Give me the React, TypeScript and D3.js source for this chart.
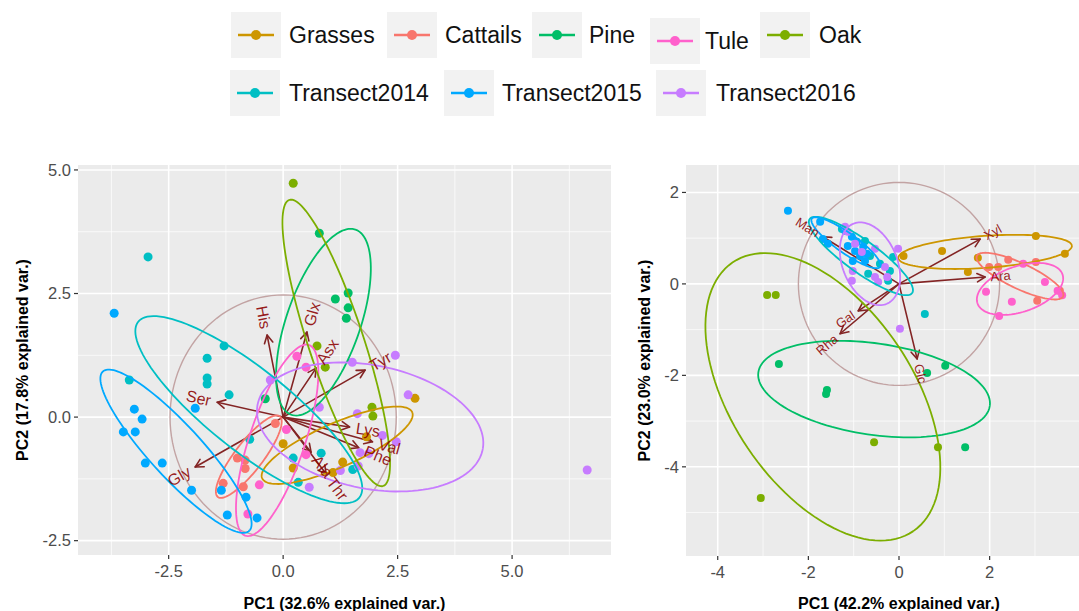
import React from "react";
import * as d3 from "d3";

const FONT = "'Liberation Sans', Arial, Helvetica, sans-serif";

const groups = ["Grasses", "Cattails", "Pine", "Tule", "Oak", "Transect2014", "Transect2015", "Transect2016"];
const groupColors = ["#CD9600", "#F8766D", "#00BE67", "#FF61CC", "#7CAE00", "#00BFC4", "#00A9FF", "#C77CFF"];

// [groupIndex, PC1, PC2]
const leftPoints: [number, number, number][] = [
  [0, 2.88, 0.38], [0, 1.82, -0.4], [0, 0, -0.54], [0, 0.22, -1.03], [0, 1.3, -0.91], [0, 1.09, -1.12],
  [1, -0.17, -0.13], [1, -1.0, -0.83], [1, -0.83, -0.87], [1, -0.83, -1.04], [1, -1.31, -1.34], [1, -0.87, -1.41],
  [2, 0.79, 3.72], [2, 1.42, 2.51], [2, 1.14, 2.39], [2, 1.42, 2.21], [2, 1.38, 2.0], [2, -0.39, 0.37],
  [3, 0.3, 1.23], [3, 0.5, 1.01], [3, 0.07, -0.25], [3, 0.5, -0.76], [3, -0.52, -1.37], [3, -0.77, -1.96],
  [4, 0.22, 4.73], [4, 0.74, 1.44], [4, 0.92, 1.01], [4, 1.94, 0.2], [4, 1.96, 0.02],
  [5, -2.95, 3.24], [5, -3.36, 0.75], [5, -1.29, 1.44], [5, -1.66, 1.19], [5, -1.66, 0.79], [5, -1.66, 0.67],
  [5, -1.18, 0.45], [5, -0.73, -0.45], [5, 0.22, -0.83], [5, 0.83, -0.73], [5, 0.33, -1.32], [5, 1.52, -1.06],
  [6, -3.69, 2.1], [6, -1.92, 0.18], [6, -3.25, 0.16], [6, -3.08, -0.04], [6, -3.49, -0.3], [6, -3.23, -0.3],
  [6, -3.01, -0.93], [6, -2.64, -0.93], [6, -2.0, -1.48], [6, -1.35, -1.48], [6, -0.81, -1.62], [6, -1.22, -1.98], [6, -0.57, -2.04],
  [7, -0.28, 0.75], [7, 1.51, 1.11], [7, 2.45, 1.25], [7, 0.79, 0.2], [7, 2.73, 0.45], [7, 1.62, 0.07], [7, 2.17, -0.37],
  [7, 2.47, -0.5], [7, 1.68, -0.72], [7, 1.87, -0.74], [7, 1.64, -0.99], [7, 1.25, -1.08], [7, 0.57, -1.42], [7, 6.64, -1.07],
];

const rightPoints: [number, number, number][] = [
  [0, 3.02, 1.05], [0, 3.66, 0.66], [0, 0.95, 0.72], [0, 0.1, 0.61], [0, 1.74, 0.57], [0, 1.52, 0.26],
  [1, 2.41, 0.53], [1, 1.99, 0.37], [1, 2.19, 0.37], [1, 3.02, 0.48], [1, 3.05, -0.37], [1, 3.55, -0.15],
  [3, 2.74, 0.44], [3, 3.22, 0.04], [3, 3.5, -0.15], [3, 1.92, -0.17], [3, 2.49, -0.39], [3, 2.21, -0.7], [3, 3.6, -0.25],
  [2, -2.65, -1.75], [2, -1.59, -2.32], [2, -1.61, -2.41], [2, 1.02, -1.79], [2, 0.62, -1.95], [2, 1.46, -3.57],
  [4, -2.91, -0.24], [4, -2.72, -0.24], [4, -3.05, -4.68], [4, -0.55, -3.46], [4, 0.86, -3.57],
  [5, -1.26, 1.2], [5, -0.75, 0.94], [5, -0.64, 0.61], [5, -0.42, 0.44], [5, -0.2, 0.28], [5, -0.13, 0.59],
  [5, -0.24, 0.07], [5, -0.68, 0.22], [5, 0.57, -0.66],
  [6, -2.45, 1.6], [6, -1.74, 1.36], [6, -1.68, 0.98], [6, -1.57, 0.88], [6, -1.19, 1.16], [6, -1.04, 1.03],
  [6, -1.13, 0.83], [6, -0.97, 0.72], [6, -0.86, 0.61], [6, -0.75, 0.5], [6, -0.71, 0.66], [6, -0.93, 0.92],
  [6, -1.02, 0.5], [6, -0.79, 0.81],
  [7, -1.19, 1.25], [7, -1.13, 1.14], [7, -0.97, 0.88], [7, -0.82, 0.7], [7, -0.53, 0.77], [7, -0.02, 0.77],
  [7, -1.02, 0.28], [7, -1.04, 0.07], [7, -0.31, 0.37], [7, -0.26, 0.15], [7, -0.46, 0.04], [7, 0.02, -0.98], [7, -0.53, 0.15],
];

// [groupIndex, centre PC1, centre PC2, semi-major, semi-minor, angle (deg)]
const leftEllipses: [number, number, number, number, number, number][] = [
  [0, 1.18, -0.57, 1.77, 0.45, 22],
  [1, -0.75, -0.8, 1.06, 0.3, 50],
  [2, 0.88, 1.92, 2.0, 0.8, 69],
  [3, -0.13, -0.47, 2.05, 0.6, 70],
  [4, 1.16, 1.5, 3.07, 0.6, -70.4],
  [5, -0.75, 0.15, 3.0, 0.85, -36],
  [6, -2.34, -0.69, 2.27, 0.55, -45],
  [7, 1.9, -0.2, 2.5, 1.25, -10],
];

const rightEllipses: [number, number, number, number, number, number][] = [
  [0, 1.9, 0.7, 1.92, 0.35, 4],
  [1, 2.67, 0.17, 1.05, 0.28, -25],
  [2, -0.55, -2.3, 2.58, 1.0, -8.2],
  [3, 2.67, -0.11, 0.99, 0.5, 18.5],
  [4, -1.68, -2.47, 3.55, 2.0, -55.8],
  [5, -0.84, 0.61, 1.39, 0.35, -35.6],
  [6, -1.17, 0.9, 0.92, 0.22, -35],
  [7, -0.64, 0.44, 0.95, 0.6, -67],
];

// [variable, PC1 loading, PC2 loading]
const leftArrows: [string, number, number][] = [
  ["His", -0.35, 1.66], ["Glx", 0.52, 1.72], ["Asx", 0.72, 0.99], ["Tyr", 1.79, 0.95],
  ["Ser", -1.44, 0.3], ["Gly", -1.92, -1.01], ["Lys", 1.45, -0.2], ["Val", 1.95, -0.5],
  ["Phe", 1.65, -0.62], ["Ala", 0.61, -0.71], ["Thr", 0.94, -1.15],
];
const rightArrows: [string, number, number][] = [
  ["Xyl", 1.79, 0.98], ["Ara", 1.9, 0.15], ["Man", -1.68, 1.03],
  ["Gal", -0.9, -0.59], ["Rha", -1.3, -1.09], ["Glc", 0.4, -1.64],
];

const leftXTicks = [-2.5, 0, 2.5, 5.0];
const leftXMinor = [-3.75, -1.25, 1.25, 3.75, 6.25];
const leftYTicks = [-2.5, 0, 2.5, 5.0];
const leftYMinor = [-1.25, 1.25, 3.75];
const rightXTicks = [-4, -2, 0, 2, 4];
const rightXMinor = [-3, -1, 1, 3];
const rightYTicks = [-4, -2, 0, 2];
const rightYMinor = [-5, -3, -1, 1];

const leftCircleR = 2.47;
const rightCircleR = 2.22;

type Sc = d3.ScaleLinear<number, number>;

function ellipsePath(e: number[], xs: Sc, ys: Sc) {
  const [, cx, cy, a, b, th] = e;
  const t = (th * Math.PI) / 180;
  const pts: [number, number][] = d3.range(0, 121).map((i) => {
    const u = (i / 120) * 2 * Math.PI;
    return [
      cx + a * Math.cos(u) * Math.cos(t) - b * Math.sin(u) * Math.sin(t),
      cy + a * Math.cos(u) * Math.sin(t) + b * Math.sin(u) * Math.cos(t),
    ];
  });
  return d3.line<[number, number]>().x((d) => xs(d[0])).y((d) => ys(d[1]))(pts) || "";
}

function circlePath(r: number, xs: Sc, ys: Sc) {
  const pts: [number, number][] = d3.range(0, 121).map((i) => {
    const u = (i / 120) * 2 * Math.PI;
    return [r * Math.cos(u), r * Math.sin(u)];
  });
  return d3.line<[number, number]>().x((d) => xs(d[0])).y((d) => ys(d[1]))(pts) || "";
}

interface PanelProps {
  id: string;
  xs: Sc; ys: Sc;
  points: [number, number, number][];
  ellipses: [number, number, number, number, number, number][];
  arrows: [string, number, number][];
  xTicks: number[]; xMinor: number[]; yTicks: number[]; yMinor: number[];
  fmt: (v: number) => string;
  circleR: number;
  xTitle: string; yTitle: string; yTitleX: number;
  labelSize: number;
  pointR: number;
}

function Panel(p: PanelProps) {
  const { xs, ys } = p;
  const [x0, x1] = xs.range();
  const [y1, y0] = ys.range();
  const ox = xs(0), oy = ys(0);
  return (
    <g>
      <defs>
        <clipPath id={p.id}>
          <rect x={x0} y={y0} width={x1 - x0} height={y1 - y0} />
        </clipPath>
      </defs>
      <rect x={x0} y={y0} width={x1 - x0} height={y1 - y0} fill="#EBEBEB" />
      <g clipPath={`url(#${p.id})`}>
        {p.xMinor.map((v) => <line key={"xm" + v} x1={xs(v)} x2={xs(v)} y1={y0} y2={y1} stroke="#fff" strokeWidth={0.7} />)}
        {p.yMinor.map((v) => <line key={"ym" + v} y1={ys(v)} y2={ys(v)} x1={x0} x2={x1} stroke="#fff" strokeWidth={0.7} />)}
        {p.xTicks.map((v) => <line key={"x" + v} x1={xs(v)} x2={xs(v)} y1={y0} y2={y1} stroke="#fff" strokeWidth={1.6} />)}
        {p.yTicks.map((v) => <line key={"y" + v} y1={ys(v)} y2={ys(v)} x1={x0} x2={x1} stroke="#fff" strokeWidth={1.6} />)}
        <path d={circlePath(p.circleR, xs, ys)} fill="none" stroke="#C2A3A3" strokeWidth={1.4} />
        {p.arrows.map(([name, vx, vy]) => {
          const tx = xs(vx), ty = ys(vy);
          const ang = Math.atan2(ty - oy, tx - ox);
          const L = 9, spread = (28 * Math.PI) / 180;
          const h1 = [tx - L * Math.cos(ang - spread), ty - L * Math.sin(ang - spread)];
          const h2 = [tx - L * Math.cos(ang + spread), ty - L * Math.sin(ang + spread)];
          return (
            <g key={"a" + name} stroke="#832424" strokeWidth={1.6} fill="none" strokeLinecap="round" strokeLinejoin="round">
              <line x1={ox} y1={oy} x2={tx} y2={ty} />
              <path d={`M${h1[0]},${h1[1]}L${tx},${ty}L${h2[0]},${h2[1]}`} />
            </g>
          );
        })}
        {p.points.map(([g, vx, vy], i) => (
          <circle key={"p" + i} cx={xs(vx)} cy={ys(vy)} r={p.pointR} fill={groupColors[g]} />
        ))}
        {p.ellipses.map((e) => (
          <path key={"e" + e[0]} d={ellipsePath(e, xs, ys)} fill="none" stroke={groupColors[e[0]]} strokeWidth={1.8} />
        ))}
        {p.arrows.map(([name, vx, vy]) => {
          const tx = xs(vx), ty = ys(vy);
          const rot = (Math.atan((ty - oy) / (tx - ox)) * 180) / Math.PI;
          const w = p.labelSize * 0.55 * name.length;
          const pos = vx > 0;
          return (
            <g key={"l" + name} transform={`translate(${tx},${ty}) rotate(${rot})`}>
              <text x={pos ? 0.25 * w : -0.25 * w} dy="0.35em" textAnchor={pos ? "start" : "end"}
                fontFamily={FONT} fontSize={p.labelSize} fill="#8B0000" fillOpacity={0.88}>{name}</text>
            </g>
          );
        })}
      </g>
      {p.xTicks.filter((v) => xs(v) >= x0 && xs(v) <= 1079).map((v) => (
        <g key={"xt" + v}>
          <line x1={xs(v)} x2={xs(v)} y1={y1} y2={y1 + 4} stroke="#333" strokeWidth={1.2} />
          <text x={xs(v)} y={y1 + 22} textAnchor="middle" fontFamily={FONT} fontSize={16.5} fill="#4D4D4D">{p.fmt(v)}</text>
        </g>
      ))}
      {p.yTicks.map((v) => (
        <g key={"yt" + v}>
          <line x1={x0 - 4} x2={x0} y1={ys(v)} y2={ys(v)} stroke="#333" strokeWidth={1.2} />
          <text x={x0 - 7} y={ys(v)} dy="0.35em" textAnchor="end" fontFamily={FONT} fontSize={16.5} fill="#4D4D4D">{p.fmt(v)}</text>
        </g>
      ))}
      <text x={(x0 + Math.min(x1, 1112)) / 2} y={609} textAnchor="middle" fontFamily={FONT} fontWeight="bold" fontSize={16} fill="#000">{p.xTitle}</text>
      <text transform={`translate(${p.yTitleX},${(y0 + y1) / 2}) rotate(-90)`} textAnchor="middle" dy="0.35em"
        fontFamily={FONT} fontWeight="bold" fontSize={16} fill="#000">{p.yTitle}</text>
    </g>
  );
}

// legend layout: [box left, text left, row centre y]
const legendLayout: [number, number, number][] = [
  [231, 289, 35], [387, 445, 35], [532, 589, 35], [650, 705, 41], [760, 819, 35],
  [230, 289, 93], [444, 502, 93], [656, 716, 93],
];

export default function App() {
  const xL = d3.scaleLinear().domain([-4.48, 7.16]).range([78, 611]);
  const yL = d3.scaleLinear().domain([-2.79, 5.1]).range([555, 165]);
  const xR = d3.scaleLinear().domain([-4.7, 4.7]).range([686, 1112]);
  const yR = d3.scaleLinear().domain([-5.95, 2.6]).range([556, 165]);

  return (
    <svg width={1079} height={611} style={{ position: "absolute", left: 0, top: 0, background: "#fff" }}>
      <rect width={1079} height={611} fill="#fff" />
      {groups.map((g, i) => {
        const [bx, tx, cy] = legendLayout[i];
        const cx = bx + 25;
        return (
          <g key={g}>
            <rect x={bx} y={cy - 23} width={50} height={46} fill="#F2F2F2" />
            <line x1={cx - 18} x2={cx + 18} y1={cy} y2={cy} stroke={groupColors[i]} strokeWidth={2.6} />
            <circle cx={cx} cy={cy} r={5} fill={groupColors[i]} />
            <text x={tx} y={cy} dy="0.36em" fontFamily={FONT} fontSize={23} fill="#111">{g}</text>
          </g>
        );
      })}
      <Panel id="clipL" xs={xL} ys={yL} points={leftPoints} ellipses={leftEllipses} arrows={leftArrows}
        xTicks={leftXTicks} xMinor={leftXMinor} yTicks={leftYTicks} yMinor={leftYMinor}
        fmt={(v) => d3.format(".1f")(v).replace("−", "-")} circleR={leftCircleR}
        xTitle="PC1 (32.6% explained var.)" yTitle="PC2 (17.8% explained var.)" yTitleX={22} labelSize={16} pointR={4.5} />
      <Panel id="clipR" xs={xR} ys={yR} points={rightPoints} ellipses={rightEllipses} arrows={rightArrows}
        xTicks={rightXTicks} xMinor={rightXMinor} yTicks={rightYTicks} yMinor={rightYMinor}
        fmt={(v) => d3.format("d")(v).replace("−", "-")} circleR={rightCircleR}
        xTitle="PC1 (42.2% explained var.)" yTitle="PC2 (23.0% explained var.)" yTitleX={644} labelSize={13} pointR={4} />
    </svg>
  );
}
